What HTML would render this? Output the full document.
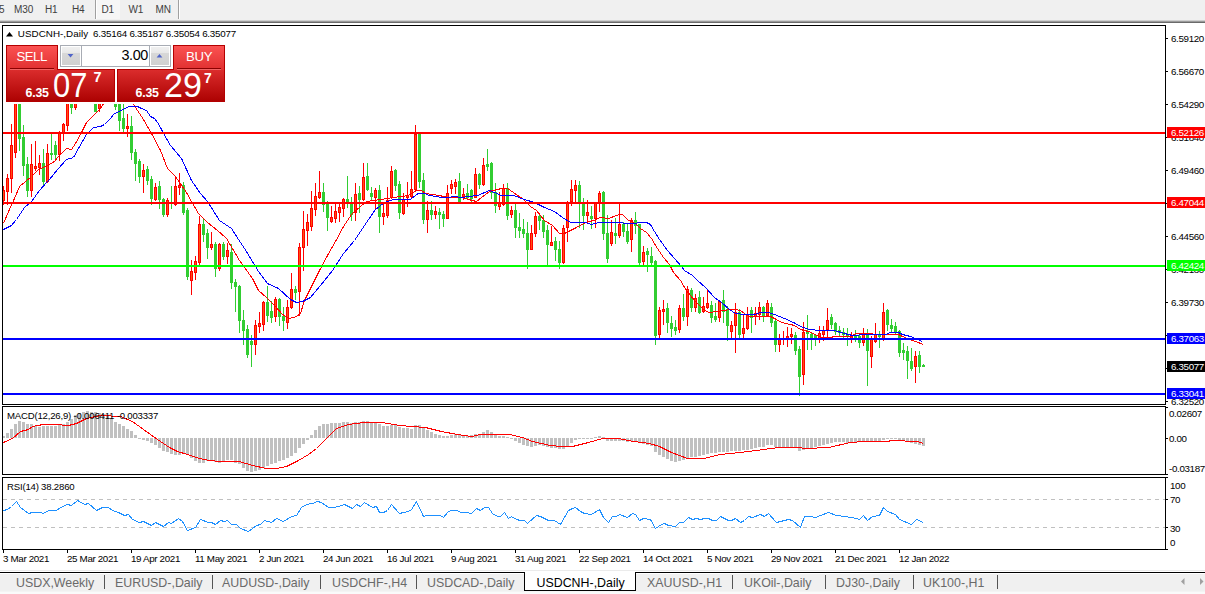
<!DOCTYPE html>
<html><head><meta charset="utf-8"><style>
html,body{margin:0;padding:0;}
body{width:1205px;height:594px;position:relative;overflow:hidden;background:#fff;font-family:"Liberation Sans", sans-serif;}
.t{position:absolute;white-space:pre;line-height:1;font-family:"Liberation Sans", sans-serif;}
#tb{position:absolute;left:0;top:0;width:1205px;height:20px;background:#f0f0f0;}
</style></head><body>
<div id="tb"></div>
<div style="position:absolute;left:95px;top:0;width:1px;height:19px;background:#a0a0a0"></div><div style="position:absolute;left:96px;top:0;width:1px;height:19px;background:#ffffff"></div><div style="position:absolute;left:178px;top:0;width:1px;height:19px;background:#a0a0a0"></div><div style="position:absolute;left:179px;top:0;width:1px;height:19px;background:#ffffff"></div><div style="position:absolute;left:97px;top:0;width:23px;height:19px;background:#f6f6f6"></div>
<div style="position:absolute;left:0;top:20px;width:1205px;height:1px;background:#cfcfcf"></div>
<div style="position:absolute;left:0;top:21px;width:1205px;height:1px;background:#9a9a9a"></div>
<div style="position:absolute;left:0;top:22px;width:1205px;height:1px;background:#6a6a6a"></div>
<svg width="1205" height="594" style="position:absolute;left:0;top:0"><rect x="2" y="436" width="3" height="2" fill="#c0c0c0"/><rect x="6" y="433" width="3" height="5" fill="#c0c0c0"/><rect x="10" y="429" width="3" height="9" fill="#c0c0c0"/><rect x="14" y="424" width="3" height="14" fill="#c0c0c0"/><rect x="18" y="421" width="3" height="17" fill="#c0c0c0"/><rect x="22" y="422" width="3" height="16" fill="#c0c0c0"/><rect x="26" y="424" width="3" height="14" fill="#c0c0c0"/><rect x="30" y="424" width="3" height="14" fill="#c0c0c0"/><rect x="34" y="426" width="3" height="12" fill="#c0c0c0"/><rect x="38" y="427" width="3" height="11" fill="#c0c0c0"/><rect x="42" y="426" width="3" height="12" fill="#c0c0c0"/><rect x="46" y="426" width="3" height="12" fill="#c0c0c0"/><rect x="50" y="426" width="3" height="12" fill="#c0c0c0"/><rect x="54" y="426" width="3" height="12" fill="#c0c0c0"/><rect x="58" y="425" width="3" height="13" fill="#c0c0c0"/><rect x="62" y="424" width="3" height="14" fill="#c0c0c0"/><rect x="66" y="422" width="3" height="16" fill="#c0c0c0"/><rect x="70" y="419" width="3" height="19" fill="#c0c0c0"/><rect x="74" y="415" width="3" height="23" fill="#c0c0c0"/><rect x="78" y="413" width="3" height="25" fill="#c0c0c0"/><rect x="82" y="412" width="3" height="26" fill="#c0c0c0"/><rect x="86" y="411" width="3" height="27" fill="#c0c0c0"/><rect x="90" y="412" width="3" height="26" fill="#c0c0c0"/><rect x="94" y="412" width="3" height="26" fill="#c0c0c0"/><rect x="98" y="413" width="3" height="25" fill="#c0c0c0"/><rect x="102" y="414" width="3" height="24" fill="#c0c0c0"/><rect x="106" y="416" width="3" height="22" fill="#c0c0c0"/><rect x="110" y="419" width="3" height="19" fill="#c0c0c0"/><rect x="114" y="422" width="3" height="16" fill="#c0c0c0"/><rect x="118" y="424" width="3" height="14" fill="#c0c0c0"/><rect x="122" y="426" width="3" height="12" fill="#c0c0c0"/><rect x="126" y="429" width="3" height="9" fill="#c0c0c0"/><rect x="130" y="431" width="3" height="7" fill="#c0c0c0"/><rect x="134" y="435" width="3" height="3" fill="#c0c0c0"/><rect x="138" y="438" width="3" height="1" fill="#c0c0c0"/><rect x="142" y="438" width="3" height="2" fill="#c0c0c0"/><rect x="146" y="438" width="3" height="3" fill="#c0c0c0"/><rect x="150" y="438" width="3" height="5" fill="#c0c0c0"/><rect x="154" y="438" width="3" height="7" fill="#c0c0c0"/><rect x="158" y="438" width="3" height="10" fill="#c0c0c0"/><rect x="162" y="438" width="3" height="13" fill="#c0c0c0"/><rect x="166" y="438" width="3" height="14" fill="#c0c0c0"/><rect x="170" y="438" width="3" height="16" fill="#c0c0c0"/><rect x="174" y="438" width="3" height="17" fill="#c0c0c0"/><rect x="178" y="438" width="3" height="17" fill="#c0c0c0"/><rect x="182" y="438" width="3" height="16" fill="#c0c0c0"/><rect x="186" y="438" width="3" height="17" fill="#c0c0c0"/><rect x="190" y="438" width="3" height="20" fill="#c0c0c0"/><rect x="194" y="438" width="3" height="23" fill="#c0c0c0"/><rect x="198" y="438" width="3" height="25" fill="#c0c0c0"/><rect x="202" y="438" width="3" height="25" fill="#c0c0c0"/><rect x="206" y="438" width="3" height="23" fill="#c0c0c0"/><rect x="210" y="438" width="3" height="23" fill="#c0c0c0"/><rect x="214" y="438" width="3" height="24" fill="#c0c0c0"/><rect x="218" y="438" width="3" height="25" fill="#c0c0c0"/><rect x="222" y="438" width="3" height="24" fill="#c0c0c0"/><rect x="226" y="438" width="3" height="22" fill="#c0c0c0"/><rect x="230" y="438" width="3" height="22" fill="#c0c0c0"/><rect x="234" y="438" width="3" height="25" fill="#c0c0c0"/><rect x="238" y="438" width="3" height="26" fill="#c0c0c0"/><rect x="242" y="438" width="3" height="30" fill="#c0c0c0"/><rect x="246" y="438" width="3" height="33" fill="#c0c0c0"/><rect x="250" y="438" width="3" height="34" fill="#c0c0c0"/><rect x="254" y="438" width="3" height="33" fill="#c0c0c0"/><rect x="258" y="438" width="3" height="32" fill="#c0c0c0"/><rect x="262" y="438" width="3" height="30" fill="#c0c0c0"/><rect x="266" y="438" width="3" height="28" fill="#c0c0c0"/><rect x="270" y="438" width="3" height="26" fill="#c0c0c0"/><rect x="274" y="438" width="3" height="25" fill="#c0c0c0"/><rect x="278" y="438" width="3" height="23" fill="#c0c0c0"/><rect x="282" y="438" width="3" height="22" fill="#c0c0c0"/><rect x="286" y="438" width="3" height="20" fill="#c0c0c0"/><rect x="290" y="438" width="3" height="18" fill="#c0c0c0"/><rect x="294" y="438" width="3" height="15" fill="#c0c0c0"/><rect x="298" y="438" width="3" height="10" fill="#c0c0c0"/><rect x="302" y="438" width="3" height="6" fill="#c0c0c0"/><rect x="306" y="438" width="3" height="2" fill="#c0c0c0"/><rect x="310" y="435" width="3" height="3" fill="#c0c0c0"/><rect x="314" y="430" width="3" height="8" fill="#c0c0c0"/><rect x="318" y="426" width="3" height="12" fill="#c0c0c0"/><rect x="322" y="424" width="3" height="14" fill="#c0c0c0"/><rect x="326" y="424" width="3" height="14" fill="#c0c0c0"/><rect x="330" y="423" width="3" height="15" fill="#c0c0c0"/><rect x="334" y="423" width="3" height="15" fill="#c0c0c0"/><rect x="338" y="423" width="3" height="15" fill="#c0c0c0"/><rect x="342" y="422" width="3" height="16" fill="#c0c0c0"/><rect x="346" y="422" width="3" height="16" fill="#c0c0c0"/><rect x="350" y="423" width="3" height="15" fill="#c0c0c0"/><rect x="354" y="422" width="3" height="16" fill="#c0c0c0"/><rect x="358" y="422" width="3" height="16" fill="#c0c0c0"/><rect x="362" y="421" width="3" height="17" fill="#c0c0c0"/><rect x="366" y="421" width="3" height="17" fill="#c0c0c0"/><rect x="370" y="422" width="3" height="16" fill="#c0c0c0"/><rect x="374" y="423" width="3" height="15" fill="#c0c0c0"/><rect x="378" y="424" width="3" height="14" fill="#c0c0c0"/><rect x="382" y="426" width="3" height="12" fill="#c0c0c0"/><rect x="386" y="426" width="3" height="12" fill="#c0c0c0"/><rect x="390" y="425" width="3" height="13" fill="#c0c0c0"/><rect x="394" y="425" width="3" height="13" fill="#c0c0c0"/><rect x="398" y="427" width="3" height="11" fill="#c0c0c0"/><rect x="402" y="428" width="3" height="10" fill="#c0c0c0"/><rect x="406" y="428" width="3" height="10" fill="#c0c0c0"/><rect x="410" y="429" width="3" height="9" fill="#c0c0c0"/><rect x="414" y="425" width="3" height="13" fill="#c0c0c0"/><rect x="418" y="425" width="3" height="13" fill="#c0c0c0"/><rect x="422" y="427" width="3" height="11" fill="#c0c0c0"/><rect x="426" y="430" width="3" height="8" fill="#c0c0c0"/><rect x="430" y="432" width="3" height="6" fill="#c0c0c0"/><rect x="434" y="434" width="3" height="4" fill="#c0c0c0"/><rect x="438" y="435" width="3" height="3" fill="#c0c0c0"/><rect x="442" y="436" width="3" height="2" fill="#c0c0c0"/><rect x="446" y="436" width="3" height="2" fill="#c0c0c0"/><rect x="450" y="435" width="3" height="3" fill="#c0c0c0"/><rect x="454" y="434" width="3" height="4" fill="#c0c0c0"/><rect x="458" y="435" width="3" height="3" fill="#c0c0c0"/><rect x="462" y="436" width="3" height="2" fill="#c0c0c0"/><rect x="466" y="436" width="3" height="2" fill="#c0c0c0"/><rect x="470" y="435" width="3" height="3" fill="#c0c0c0"/><rect x="474" y="434" width="3" height="4" fill="#c0c0c0"/><rect x="478" y="434" width="3" height="4" fill="#c0c0c0"/><rect x="482" y="432" width="3" height="6" fill="#c0c0c0"/><rect x="486" y="430" width="3" height="8" fill="#c0c0c0"/><rect x="490" y="432" width="3" height="6" fill="#c0c0c0"/><rect x="494" y="434" width="3" height="4" fill="#c0c0c0"/><rect x="498" y="436" width="3" height="2" fill="#c0c0c0"/><rect x="502" y="436" width="3" height="2" fill="#c0c0c0"/><rect x="506" y="437" width="3" height="1" fill="#c0c0c0"/><rect x="510" y="438" width="3" height="1" fill="#c0c0c0"/><rect x="514" y="438" width="3" height="3" fill="#c0c0c0"/><rect x="518" y="438" width="3" height="5" fill="#c0c0c0"/><rect x="522" y="438" width="3" height="7" fill="#c0c0c0"/><rect x="526" y="438" width="3" height="8" fill="#c0c0c0"/><rect x="530" y="438" width="3" height="9" fill="#c0c0c0"/><rect x="534" y="438" width="3" height="8" fill="#c0c0c0"/><rect x="538" y="438" width="3" height="7" fill="#c0c0c0"/><rect x="542" y="438" width="3" height="8" fill="#c0c0c0"/><rect x="546" y="438" width="3" height="9" fill="#c0c0c0"/><rect x="550" y="438" width="3" height="10" fill="#c0c0c0"/><rect x="554" y="438" width="3" height="10" fill="#c0c0c0"/><rect x="558" y="438" width="3" height="11" fill="#c0c0c0"/><rect x="562" y="438" width="3" height="11" fill="#c0c0c0"/><rect x="566" y="438" width="3" height="9" fill="#c0c0c0"/><rect x="570" y="438" width="3" height="5" fill="#c0c0c0"/><rect x="574" y="438" width="3" height="2" fill="#c0c0c0"/><rect x="578" y="438" width="3" height="1" fill="#c0c0c0"/><rect x="582" y="438" width="3" height="1" fill="#c0c0c0"/><rect x="586" y="438" width="3" height="1" fill="#c0c0c0"/><rect x="590" y="438" width="3" height="1" fill="#c0c0c0"/><rect x="594" y="437" width="3" height="1" fill="#c0c0c0"/><rect x="598" y="436" width="3" height="2" fill="#c0c0c0"/><rect x="602" y="437" width="3" height="1" fill="#c0c0c0"/><rect x="606" y="438" width="3" height="3" fill="#c0c0c0"/><rect x="610" y="438" width="3" height="3" fill="#c0c0c0"/><rect x="614" y="438" width="3" height="3" fill="#c0c0c0"/><rect x="618" y="438" width="3" height="3" fill="#c0c0c0"/><rect x="622" y="438" width="3" height="3" fill="#c0c0c0"/><rect x="626" y="438" width="3" height="4" fill="#c0c0c0"/><rect x="630" y="438" width="3" height="3" fill="#c0c0c0"/><rect x="634" y="438" width="3" height="4" fill="#c0c0c0"/><rect x="638" y="438" width="3" height="5" fill="#c0c0c0"/><rect x="642" y="438" width="3" height="6" fill="#c0c0c0"/><rect x="646" y="438" width="3" height="7" fill="#c0c0c0"/><rect x="650" y="438" width="3" height="8" fill="#c0c0c0"/><rect x="654" y="438" width="3" height="14" fill="#c0c0c0"/><rect x="658" y="438" width="3" height="17" fill="#c0c0c0"/><rect x="662" y="438" width="3" height="19" fill="#c0c0c0"/><rect x="666" y="438" width="3" height="21" fill="#c0c0c0"/><rect x="670" y="438" width="3" height="23" fill="#c0c0c0"/><rect x="674" y="438" width="3" height="24" fill="#c0c0c0"/><rect x="678" y="438" width="3" height="23" fill="#c0c0c0"/><rect x="682" y="438" width="3" height="22" fill="#c0c0c0"/><rect x="686" y="438" width="3" height="20" fill="#c0c0c0"/><rect x="690" y="438" width="3" height="19" fill="#c0c0c0"/><rect x="694" y="438" width="3" height="19" fill="#c0c0c0"/><rect x="698" y="438" width="3" height="18" fill="#c0c0c0"/><rect x="702" y="438" width="3" height="17" fill="#c0c0c0"/><rect x="706" y="438" width="3" height="16" fill="#c0c0c0"/><rect x="710" y="438" width="3" height="15" fill="#c0c0c0"/><rect x="714" y="438" width="3" height="15" fill="#c0c0c0"/><rect x="718" y="438" width="3" height="14" fill="#c0c0c0"/><rect x="722" y="438" width="3" height="14" fill="#c0c0c0"/><rect x="726" y="438" width="3" height="14" fill="#c0c0c0"/><rect x="730" y="438" width="3" height="13" fill="#c0c0c0"/><rect x="734" y="438" width="3" height="13" fill="#c0c0c0"/><rect x="738" y="438" width="3" height="13" fill="#c0c0c0"/><rect x="742" y="438" width="3" height="12" fill="#c0c0c0"/><rect x="746" y="438" width="3" height="12" fill="#c0c0c0"/><rect x="750" y="438" width="3" height="11" fill="#c0c0c0"/><rect x="754" y="438" width="3" height="10" fill="#c0c0c0"/><rect x="758" y="438" width="3" height="9" fill="#c0c0c0"/><rect x="762" y="438" width="3" height="9" fill="#c0c0c0"/><rect x="766" y="438" width="3" height="7" fill="#c0c0c0"/><rect x="770" y="438" width="3" height="7" fill="#c0c0c0"/><rect x="774" y="438" width="3" height="9" fill="#c0c0c0"/><rect x="778" y="438" width="3" height="10" fill="#c0c0c0"/><rect x="782" y="438" width="3" height="9" fill="#c0c0c0"/><rect x="786" y="438" width="3" height="9" fill="#c0c0c0"/><rect x="790" y="438" width="3" height="9" fill="#c0c0c0"/><rect x="794" y="438" width="3" height="10" fill="#c0c0c0"/><rect x="798" y="438" width="3" height="13" fill="#c0c0c0"/><rect x="802" y="438" width="3" height="12" fill="#c0c0c0"/><rect x="806" y="438" width="3" height="10" fill="#c0c0c0"/><rect x="810" y="438" width="3" height="10" fill="#c0c0c0"/><rect x="814" y="438" width="3" height="9" fill="#c0c0c0"/><rect x="818" y="438" width="3" height="8" fill="#c0c0c0"/><rect x="822" y="438" width="3" height="7" fill="#c0c0c0"/><rect x="826" y="438" width="3" height="6" fill="#c0c0c0"/><rect x="830" y="438" width="3" height="5" fill="#c0c0c0"/><rect x="834" y="438" width="3" height="4" fill="#c0c0c0"/><rect x="838" y="438" width="3" height="4" fill="#c0c0c0"/><rect x="842" y="438" width="3" height="4" fill="#c0c0c0"/><rect x="846" y="438" width="3" height="5" fill="#c0c0c0"/><rect x="850" y="438" width="3" height="4" fill="#c0c0c0"/><rect x="854" y="438" width="3" height="4" fill="#c0c0c0"/><rect x="858" y="438" width="3" height="4" fill="#c0c0c0"/><rect x="862" y="438" width="3" height="3" fill="#c0c0c0"/><rect x="866" y="438" width="3" height="4" fill="#c0c0c0"/><rect x="870" y="438" width="3" height="4" fill="#c0c0c0"/><rect x="874" y="438" width="3" height="4" fill="#c0c0c0"/><rect x="878" y="438" width="3" height="3" fill="#c0c0c0"/><rect x="882" y="438" width="3" height="2" fill="#c0c0c0"/><rect x="886" y="438" width="3" height="1" fill="#c0c0c0"/><rect x="890" y="438" width="3" height="1" fill="#c0c0c0"/><rect x="894" y="438" width="3" height="1" fill="#c0c0c0"/><rect x="898" y="438" width="3" height="2" fill="#c0c0c0"/><rect x="902" y="438" width="3" height="2" fill="#c0c0c0"/><rect x="906" y="438" width="3" height="4" fill="#c0c0c0"/><rect x="910" y="438" width="3" height="5" fill="#c0c0c0"/><rect x="914" y="438" width="3" height="6" fill="#c0c0c0"/><rect x="918" y="438" width="3" height="7" fill="#c0c0c0"/><rect x="922" y="438" width="3" height="8" fill="#c0c0c0"/><polyline points="3.5,442.5 12.5,438.5 20.5,431.5 24.5,430.5 28.5,429.5 32.5,426.5 38.5,425.5 42.5,424.5 54.5,424.5 68.5,425.5 76.5,423.5 86.5,418.5 100.5,415.5 120.5,416.5 132.5,421.5 143.5,429.5 157.5,439.5 169.5,447.5 177.5,451.5 187.5,454.5 199.5,458.5 209.5,460.5 219.5,461.5 239.5,461.5 252.5,465.5 266.5,468.5 276.5,468.5 286.5,466.5 298.5,460.5 308.5,454.5 316.5,448.5 326.5,438.5 336.5,428.5 348.5,424.5 364.5,422.5 381.5,422.5 399.5,425.5 411.5,426.5 425.5,427.5 441.5,431.5 457.5,434.5 471.5,436.5 480.5,434.5 486.5,434.5 509.5,434.5 522.5,437.5 532.5,441.5 550.5,445.5 560.5,446.5 572.5,446.5 588.5,442.5 602.5,438.5 618.5,438.5 633.5,441.5 649.5,443.5 659.5,446.5 671.5,452.5 687.5,458.5 703.5,458.5 720.5,454.5 740.5,452.5 756.5,450.5 778.5,447.5 796.5,447.5 806.5,448.5 828.5,447.5 850.5,442.5 863.5,441.5 887.5,441.5 891.5,440.5 917.5,441.5 923.5,443.5" fill="none" stroke="#ff0000" stroke-width="1" stroke-linejoin="round" shape-rendering="crispEdges"/><line x1="3" y1="499.5" x2="1165" y2="499.5" stroke="#c0c0c0" stroke-width="1" stroke-dasharray="4,4"/><line x1="3" y1="527.5" x2="1165" y2="527.5" stroke="#c0c0c0" stroke-width="1" stroke-dasharray="4,4"/><polyline points="3.5,510.5 7.5,509.5 11.5,506.5 16.5,501.5 20.5,507.5 24.5,510.5 28.5,513.5 32.5,512.5 40.5,512.5 43.5,513.5 48.5,510.5 56.5,510.5 60.5,507.5 67.5,504.5 71.5,505.5 77.5,500.5 84.5,504.5 88.5,503.5 96.5,510.5 102.5,507.5 108.5,507.5 112.5,510.5 118.5,512.5 124.5,515.5 128.5,514.5 132.5,519.5 139.5,522.5 143.5,521.5 151.5,525.5 155.5,522.5 163.5,526.5 168.5,522.5 171.5,523.5 178.5,518.5 182.5,521.5 187.5,530.5 195.5,527.5 200.5,519.5 208.5,522.5 211.5,522.5 215.5,524.5 220.5,520.5 224.5,521.5 227.5,520.5 231.5,524.5 236.5,524.5 240.5,528.5 248.5,531.5 256.5,525.5 260.5,524.5 264.5,520.5 271.5,522.5 276.5,518.5 283.5,521.5 291.5,516.5 296.5,515.5 301.5,507.5 306.5,504.5 312.5,503.5 317.5,501.5 321.5,502.5 328.5,507.5 333.5,507.5 338.5,506.5 344.5,504.5 352.5,508.5 356.5,504.5 360.5,506.5 364.5,502.5 372.5,507.5 376.5,506.5 379.5,512.5 383.5,512.5 387.5,510.5 391.5,504.5 399.5,513.5 403.5,512.5 408.5,511.5 411.5,509.5 416.5,501.5 423.5,516.5 426.5,515.5 440.5,515.5 443.5,517.5 448.5,511.5 451.5,510.5 456.5,510.5 461.5,512.5 466.5,512.5 471.5,513.5 476.5,508.5 480.5,510.5 484.5,507.5 488.5,507.5 492.5,513.5 497.5,516.5 500.5,516.5 504.5,512.5 508.5,518.5 511.5,516.5 516.5,519.5 520.5,520.5 524.5,520.5 527.5,523.5 536.5,515.5 540.5,516.5 548.5,520.5 554.5,520.5 560.5,524.5 568.5,510.5 572.5,508.5 575.5,507.5 580.5,511.5 584.5,513.5 591.5,514.5 599.5,509.5 603.5,517.5 608.5,522.5 612.5,516.5 616.5,516.5 619.5,514.5 627.5,517.5 632.5,513.5 635.5,514.5 639.5,520.5 643.5,518.5 650.5,519.5 655.5,528.5 661.5,524.5 664.5,523.5 668.5,525.5 675.5,526.5 679.5,522.5 683.5,522.5 688.5,517.5 692.5,519.5 696.5,518.5 700.5,519.5 704.5,518.5 708.5,518.5 712.5,520.5 716.5,520.5 720.5,516.5 728.5,520.5 731.5,520.5 735.5,518.5 740.5,522.5 744.5,520.5 748.5,516.5 752.5,517.5 760.5,514.5 764.5,516.5 768.5,513.5 776.5,522.5 780.5,521.5 788.5,519.5 792.5,520.5 800.5,527.5 804.5,516.5 809.5,516.5 815.5,517.5 820.5,515.5 828.5,512.5 836.5,515.5 844.5,516.5 856.5,518.5 859.5,519.5 863.5,515.5 867.5,520.5 872.5,516.5 879.5,515.5 883.5,507.5 887.5,511.5 895.5,514.5 899.5,519.5 911.5,524.5 916.5,519.5 923.5,522.5" fill="none" stroke="#1e90ff" stroke-width="1" stroke-linejoin="round" shape-rendering="crispEdges"/><g shape-rendering="crispEdges"><rect x="3" y="186" width="1" height="19" fill="#ff0000"/><rect x="2" y="190" width="3" height="11" fill="#ff0000"/><rect x="3" y="191" width="1" height="9" fill="#ff5010"/><rect x="7" y="174" width="1" height="31" fill="#ff0000"/><rect x="6" y="178" width="3" height="14" fill="#ff0000"/><rect x="7" y="179" width="1" height="12" fill="#ff5010"/><rect x="11" y="124" width="1" height="69" fill="#ff0000"/><rect x="10" y="145" width="3" height="34" fill="#ff0000"/><rect x="11" y="146" width="1" height="32" fill="#ff5010"/><rect x="15" y="95" width="1" height="63" fill="#ff0000"/><rect x="14" y="95" width="3" height="58" fill="#ff0000"/><rect x="15" y="96" width="1" height="56" fill="#ff5010"/><rect x="19" y="95" width="1" height="56" fill="#32cd32"/><rect x="18" y="95" width="3" height="44" fill="#32cd32"/><rect x="23" y="125" width="1" height="51" fill="#32cd32"/><rect x="22" y="137" width="3" height="29" fill="#32cd32"/><rect x="27" y="157" width="1" height="40" fill="#32cd32"/><rect x="26" y="164" width="3" height="27" fill="#32cd32"/><rect x="31" y="144" width="1" height="53" fill="#ff0000"/><rect x="30" y="164" width="3" height="27" fill="#ff0000"/><rect x="31" y="165" width="1" height="25" fill="#ff5010"/><rect x="35" y="141" width="1" height="30" fill="#ff0000"/><rect x="34" y="166" width="3" height="3" fill="#ff0000"/><rect x="35" y="167" width="1" height="1" fill="#ff5010"/><rect x="39" y="155" width="1" height="20" fill="#ff0000"/><rect x="38" y="163" width="3" height="5" fill="#ff0000"/><rect x="39" y="164" width="1" height="3" fill="#ff5010"/><rect x="43" y="149" width="1" height="36" fill="#32cd32"/><rect x="42" y="163" width="3" height="19" fill="#32cd32"/><rect x="47" y="144" width="1" height="39" fill="#ff0000"/><rect x="46" y="153" width="3" height="29" fill="#ff0000"/><rect x="47" y="154" width="1" height="27" fill="#ff5010"/><rect x="51" y="133" width="1" height="27" fill="#32cd32"/><rect x="50" y="153" width="3" height="2" fill="#32cd32"/><rect x="55" y="141" width="1" height="20" fill="#32cd32"/><rect x="54" y="145" width="3" height="10" fill="#32cd32"/><rect x="59" y="131" width="1" height="30" fill="#ff0000"/><rect x="58" y="132" width="3" height="23" fill="#ff0000"/><rect x="59" y="133" width="1" height="21" fill="#ff5010"/><rect x="63" y="123" width="1" height="18" fill="#ff0000"/><rect x="62" y="124" width="3" height="9" fill="#ff0000"/><rect x="63" y="125" width="1" height="7" fill="#ff5010"/><rect x="67" y="95" width="1" height="36" fill="#ff0000"/><rect x="66" y="95" width="3" height="31" fill="#ff0000"/><rect x="67" y="96" width="1" height="29" fill="#ff5010"/><rect x="71" y="95" width="1" height="19" fill="#32cd32"/><rect x="70" y="95" width="3" height="13" fill="#32cd32"/><rect x="75" y="95" width="1" height="15" fill="#ff0000"/><rect x="74" y="95" width="3" height="13" fill="#ff0000"/><rect x="75" y="96" width="1" height="11" fill="#ff5010"/><rect x="95" y="95" width="1" height="17" fill="#32cd32"/><rect x="94" y="95" width="3" height="17" fill="#32cd32"/><rect x="99" y="95" width="1" height="17" fill="#ff0000"/><rect x="98" y="95" width="3" height="14" fill="#ff0000"/><rect x="99" y="96" width="1" height="12" fill="#ff5010"/><rect x="115" y="104" width="1" height="6" fill="#32cd32"/><rect x="114" y="104" width="3" height="3" fill="#32cd32"/><rect x="119" y="95" width="1" height="36" fill="#32cd32"/><rect x="118" y="95" width="3" height="26" fill="#32cd32"/><rect x="123" y="104" width="1" height="30" fill="#32cd32"/><rect x="122" y="118" width="3" height="11" fill="#32cd32"/><rect x="127" y="114" width="1" height="23" fill="#ff0000"/><rect x="126" y="126" width="3" height="3" fill="#ff0000"/><rect x="127" y="127" width="1" height="1" fill="#ff5010"/><rect x="131" y="116" width="1" height="44" fill="#32cd32"/><rect x="130" y="126" width="3" height="27" fill="#32cd32"/><rect x="135" y="149" width="1" height="32" fill="#32cd32"/><rect x="134" y="152" width="3" height="12" fill="#32cd32"/><rect x="139" y="159" width="1" height="24" fill="#32cd32"/><rect x="138" y="161" width="3" height="16" fill="#32cd32"/><rect x="143" y="164" width="1" height="29" fill="#ff0000"/><rect x="142" y="170" width="3" height="7" fill="#ff0000"/><rect x="143" y="171" width="1" height="5" fill="#ff5010"/><rect x="147" y="166" width="1" height="19" fill="#32cd32"/><rect x="146" y="169" width="3" height="12" fill="#32cd32"/><rect x="151" y="176" width="1" height="29" fill="#32cd32"/><rect x="150" y="179" width="3" height="20" fill="#32cd32"/><rect x="155" y="183" width="1" height="18" fill="#ff0000"/><rect x="154" y="187" width="3" height="13" fill="#ff0000"/><rect x="155" y="188" width="1" height="11" fill="#ff5010"/><rect x="159" y="181" width="1" height="28" fill="#32cd32"/><rect x="158" y="186" width="3" height="14" fill="#32cd32"/><rect x="163" y="198" width="1" height="19" fill="#32cd32"/><rect x="162" y="199" width="3" height="16" fill="#32cd32"/><rect x="167" y="198" width="1" height="19" fill="#ff0000"/><rect x="166" y="200" width="3" height="15" fill="#ff0000"/><rect x="167" y="201" width="1" height="13" fill="#ff5010"/><rect x="171" y="186" width="1" height="23" fill="#32cd32"/><rect x="170" y="202" width="3" height="2" fill="#32cd32"/><rect x="175" y="177" width="1" height="29" fill="#ff0000"/><rect x="174" y="186" width="3" height="19" fill="#ff0000"/><rect x="175" y="187" width="1" height="17" fill="#ff5010"/><rect x="179" y="173" width="1" height="22" fill="#ff0000"/><rect x="178" y="185" width="3" height="3" fill="#ff0000"/><rect x="179" y="186" width="1" height="1" fill="#ff5010"/><rect x="183" y="182" width="1" height="33" fill="#32cd32"/><rect x="182" y="185" width="3" height="28" fill="#32cd32"/><rect x="187" y="208" width="1" height="72" fill="#32cd32"/><rect x="186" y="210" width="3" height="67" fill="#32cd32"/><rect x="191" y="260" width="1" height="35" fill="#ff0000"/><rect x="190" y="271" width="3" height="10" fill="#ff0000"/><rect x="191" y="272" width="1" height="8" fill="#ff5010"/><rect x="195" y="256" width="1" height="24" fill="#ff0000"/><rect x="194" y="261" width="3" height="12" fill="#ff0000"/><rect x="195" y="262" width="1" height="10" fill="#ff5010"/><rect x="199" y="216" width="1" height="51" fill="#ff0000"/><rect x="198" y="224" width="3" height="39" fill="#ff0000"/><rect x="199" y="225" width="1" height="37" fill="#ff5010"/><rect x="203" y="218" width="1" height="24" fill="#32cd32"/><rect x="202" y="224" width="3" height="11" fill="#32cd32"/><rect x="207" y="229" width="1" height="30" fill="#32cd32"/><rect x="206" y="233" width="3" height="15" fill="#32cd32"/><rect x="211" y="232" width="1" height="18" fill="#ff0000"/><rect x="210" y="244" width="3" height="4" fill="#ff0000"/><rect x="211" y="245" width="1" height="2" fill="#ff5010"/><rect x="215" y="242" width="1" height="35" fill="#32cd32"/><rect x="214" y="244" width="3" height="25" fill="#32cd32"/><rect x="219" y="243" width="1" height="28" fill="#ff0000"/><rect x="218" y="244" width="3" height="25" fill="#ff0000"/><rect x="219" y="245" width="1" height="23" fill="#ff5010"/><rect x="223" y="242" width="1" height="18" fill="#32cd32"/><rect x="222" y="244" width="3" height="13" fill="#32cd32"/><rect x="227" y="243" width="1" height="21" fill="#ff0000"/><rect x="226" y="250" width="3" height="7" fill="#ff0000"/><rect x="227" y="251" width="1" height="5" fill="#ff5010"/><rect x="231" y="244" width="1" height="45" fill="#32cd32"/><rect x="230" y="252" width="3" height="31" fill="#32cd32"/><rect x="235" y="279" width="1" height="33" fill="#32cd32"/><rect x="234" y="282" width="3" height="5" fill="#32cd32"/><rect x="239" y="285" width="1" height="48" fill="#32cd32"/><rect x="238" y="286" width="3" height="35" fill="#32cd32"/><rect x="243" y="310" width="1" height="35" fill="#32cd32"/><rect x="242" y="320" width="3" height="11" fill="#32cd32"/><rect x="247" y="325" width="1" height="33" fill="#32cd32"/><rect x="246" y="329" width="3" height="26" fill="#32cd32"/><rect x="251" y="335" width="1" height="32" fill="#32cd32"/><rect x="250" y="341" width="3" height="4" fill="#32cd32"/><rect x="255" y="320" width="1" height="35" fill="#ff0000"/><rect x="254" y="325" width="3" height="20" fill="#ff0000"/><rect x="255" y="326" width="1" height="18" fill="#ff5010"/><rect x="259" y="312" width="1" height="21" fill="#ff0000"/><rect x="258" y="323" width="3" height="4" fill="#ff0000"/><rect x="259" y="324" width="1" height="2" fill="#ff5010"/><rect x="263" y="301" width="1" height="30" fill="#ff0000"/><rect x="262" y="302" width="3" height="23" fill="#ff0000"/><rect x="263" y="303" width="1" height="21" fill="#ff5010"/><rect x="267" y="286" width="1" height="36" fill="#32cd32"/><rect x="266" y="302" width="3" height="14" fill="#32cd32"/><rect x="271" y="301" width="1" height="22" fill="#32cd32"/><rect x="270" y="311" width="3" height="7" fill="#32cd32"/><rect x="275" y="297" width="1" height="25" fill="#ff0000"/><rect x="274" y="299" width="3" height="18" fill="#ff0000"/><rect x="275" y="300" width="1" height="16" fill="#ff5010"/><rect x="279" y="298" width="1" height="28" fill="#32cd32"/><rect x="278" y="299" width="3" height="18" fill="#32cd32"/><rect x="283" y="307" width="1" height="24" fill="#32cd32"/><rect x="282" y="316" width="3" height="5" fill="#32cd32"/><rect x="287" y="300" width="1" height="29" fill="#ff0000"/><rect x="286" y="307" width="3" height="16" fill="#ff0000"/><rect x="287" y="308" width="1" height="14" fill="#ff5010"/><rect x="291" y="273" width="1" height="36" fill="#ff0000"/><rect x="290" y="289" width="3" height="19" fill="#ff0000"/><rect x="291" y="290" width="1" height="17" fill="#ff5010"/><rect x="295" y="286" width="1" height="14" fill="#32cd32"/><rect x="294" y="289" width="3" height="4" fill="#32cd32"/><rect x="299" y="243" width="1" height="73" fill="#ff0000"/><rect x="298" y="247" width="3" height="45" fill="#ff0000"/><rect x="299" y="248" width="1" height="43" fill="#ff5010"/><rect x="303" y="211" width="1" height="60" fill="#ff0000"/><rect x="302" y="229" width="3" height="19" fill="#ff0000"/><rect x="303" y="230" width="1" height="17" fill="#ff5010"/><rect x="307" y="214" width="1" height="32" fill="#ff0000"/><rect x="306" y="222" width="3" height="9" fill="#ff0000"/><rect x="307" y="223" width="1" height="7" fill="#ff5010"/><rect x="311" y="191" width="1" height="40" fill="#ff0000"/><rect x="310" y="208" width="3" height="19" fill="#ff0000"/><rect x="311" y="209" width="1" height="17" fill="#ff5010"/><rect x="315" y="183" width="1" height="33" fill="#ff0000"/><rect x="314" y="196" width="3" height="14" fill="#ff0000"/><rect x="315" y="197" width="1" height="12" fill="#ff5010"/><rect x="319" y="171" width="1" height="28" fill="#ff0000"/><rect x="318" y="192" width="3" height="6" fill="#ff0000"/><rect x="319" y="193" width="1" height="4" fill="#ff5010"/><rect x="323" y="183" width="1" height="29" fill="#32cd32"/><rect x="322" y="192" width="3" height="13" fill="#32cd32"/><rect x="327" y="201" width="1" height="30" fill="#32cd32"/><rect x="326" y="203" width="3" height="15" fill="#32cd32"/><rect x="331" y="206" width="1" height="17" fill="#ff0000"/><rect x="330" y="217" width="3" height="5" fill="#ff0000"/><rect x="331" y="218" width="1" height="3" fill="#ff5010"/><rect x="335" y="204" width="1" height="19" fill="#ff0000"/><rect x="334" y="211" width="3" height="8" fill="#ff0000"/><rect x="335" y="212" width="1" height="6" fill="#ff5010"/><rect x="339" y="204" width="1" height="18" fill="#ff0000"/><rect x="338" y="207" width="3" height="6" fill="#ff0000"/><rect x="339" y="208" width="1" height="4" fill="#ff5010"/><rect x="343" y="198" width="1" height="19" fill="#ff0000"/><rect x="342" y="199" width="3" height="10" fill="#ff0000"/><rect x="343" y="200" width="1" height="8" fill="#ff5010"/><rect x="347" y="176" width="1" height="32" fill="#32cd32"/><rect x="346" y="199" width="3" height="4" fill="#32cd32"/><rect x="351" y="197" width="1" height="24" fill="#32cd32"/><rect x="350" y="203" width="3" height="12" fill="#32cd32"/><rect x="355" y="183" width="1" height="38" fill="#ff0000"/><rect x="354" y="194" width="3" height="19" fill="#ff0000"/><rect x="355" y="195" width="1" height="17" fill="#ff5010"/><rect x="359" y="186" width="1" height="27" fill="#32cd32"/><rect x="358" y="193" width="3" height="7" fill="#32cd32"/><rect x="363" y="163" width="1" height="38" fill="#ff0000"/><rect x="362" y="177" width="3" height="23" fill="#ff0000"/><rect x="363" y="178" width="1" height="21" fill="#ff5010"/><rect x="367" y="163" width="1" height="28" fill="#32cd32"/><rect x="366" y="176" width="3" height="14" fill="#32cd32"/><rect x="371" y="187" width="1" height="14" fill="#32cd32"/><rect x="370" y="193" width="3" height="4" fill="#32cd32"/><rect x="375" y="188" width="1" height="22" fill="#ff0000"/><rect x="374" y="190" width="3" height="8" fill="#ff0000"/><rect x="375" y="191" width="1" height="6" fill="#ff5010"/><rect x="379" y="185" width="1" height="48" fill="#32cd32"/><rect x="378" y="190" width="3" height="27" fill="#32cd32"/><rect x="383" y="204" width="1" height="21" fill="#ff0000"/><rect x="382" y="213" width="3" height="4" fill="#ff0000"/><rect x="383" y="214" width="1" height="2" fill="#ff5010"/><rect x="387" y="187" width="1" height="31" fill="#ff0000"/><rect x="386" y="200" width="3" height="16" fill="#ff0000"/><rect x="387" y="201" width="1" height="14" fill="#ff5010"/><rect x="391" y="166" width="1" height="33" fill="#ff0000"/><rect x="390" y="171" width="3" height="27" fill="#ff0000"/><rect x="391" y="172" width="1" height="25" fill="#ff5010"/><rect x="395" y="169" width="1" height="22" fill="#32cd32"/><rect x="394" y="170" width="3" height="16" fill="#32cd32"/><rect x="399" y="181" width="1" height="38" fill="#32cd32"/><rect x="398" y="184" width="3" height="29" fill="#32cd32"/><rect x="403" y="193" width="1" height="22" fill="#ff0000"/><rect x="402" y="199" width="3" height="15" fill="#ff0000"/><rect x="403" y="200" width="1" height="13" fill="#ff5010"/><rect x="407" y="182" width="1" height="25" fill="#ff0000"/><rect x="406" y="195" width="3" height="3" fill="#ff0000"/><rect x="407" y="196" width="1" height="1" fill="#ff5010"/><rect x="411" y="171" width="1" height="27" fill="#ff0000"/><rect x="410" y="189" width="3" height="8" fill="#ff0000"/><rect x="411" y="190" width="1" height="6" fill="#ff5010"/><rect x="415" y="125" width="1" height="66" fill="#ff0000"/><rect x="414" y="134" width="3" height="56" fill="#ff0000"/><rect x="415" y="135" width="1" height="54" fill="#ff5010"/><rect x="419" y="133" width="1" height="55" fill="#32cd32"/><rect x="418" y="134" width="3" height="48" fill="#32cd32"/><rect x="423" y="173" width="1" height="51" fill="#32cd32"/><rect x="422" y="180" width="3" height="40" fill="#32cd32"/><rect x="427" y="201" width="1" height="32" fill="#ff0000"/><rect x="426" y="210" width="3" height="10" fill="#ff0000"/><rect x="427" y="211" width="1" height="8" fill="#ff5010"/><rect x="431" y="201" width="1" height="19" fill="#32cd32"/><rect x="430" y="210" width="3" height="5" fill="#32cd32"/><rect x="435" y="206" width="1" height="13" fill="#ff0000"/><rect x="434" y="211" width="3" height="4" fill="#ff0000"/><rect x="435" y="212" width="1" height="2" fill="#ff5010"/><rect x="439" y="208" width="1" height="21" fill="#32cd32"/><rect x="438" y="212" width="3" height="3" fill="#32cd32"/><rect x="443" y="211" width="1" height="16" fill="#32cd32"/><rect x="442" y="214" width="3" height="5" fill="#32cd32"/><rect x="447" y="185" width="1" height="34" fill="#ff0000"/><rect x="446" y="193" width="3" height="26" fill="#ff0000"/><rect x="447" y="194" width="1" height="24" fill="#ff5010"/><rect x="451" y="180" width="1" height="14" fill="#ff0000"/><rect x="450" y="184" width="3" height="5" fill="#ff0000"/><rect x="451" y="185" width="1" height="3" fill="#ff5010"/><rect x="455" y="179" width="1" height="15" fill="#ff0000"/><rect x="454" y="182" width="3" height="5" fill="#ff0000"/><rect x="455" y="183" width="1" height="3" fill="#ff5010"/><rect x="459" y="173" width="1" height="30" fill="#32cd32"/><rect x="458" y="181" width="3" height="21" fill="#32cd32"/><rect x="463" y="188" width="1" height="12" fill="#ff0000"/><rect x="462" y="194" width="3" height="3" fill="#ff0000"/><rect x="463" y="195" width="1" height="1" fill="#ff5010"/><rect x="467" y="184" width="1" height="15" fill="#32cd32"/><rect x="466" y="193" width="3" height="5" fill="#32cd32"/><rect x="471" y="189" width="1" height="13" fill="#32cd32"/><rect x="470" y="190" width="3" height="9" fill="#32cd32"/><rect x="475" y="168" width="1" height="30" fill="#ff0000"/><rect x="474" y="174" width="3" height="24" fill="#ff0000"/><rect x="475" y="175" width="1" height="22" fill="#ff5010"/><rect x="479" y="173" width="1" height="16" fill="#32cd32"/><rect x="478" y="174" width="3" height="11" fill="#32cd32"/><rect x="483" y="158" width="1" height="28" fill="#ff0000"/><rect x="482" y="165" width="3" height="20" fill="#ff0000"/><rect x="483" y="166" width="1" height="18" fill="#ff5010"/><rect x="487" y="149" width="1" height="22" fill="#32cd32"/><rect x="486" y="164" width="3" height="3" fill="#32cd32"/><rect x="491" y="162" width="1" height="37" fill="#32cd32"/><rect x="490" y="163" width="3" height="30" fill="#32cd32"/><rect x="495" y="183" width="1" height="30" fill="#32cd32"/><rect x="494" y="192" width="3" height="14" fill="#32cd32"/><rect x="499" y="192" width="1" height="18" fill="#ff0000"/><rect x="498" y="203" width="3" height="4" fill="#ff0000"/><rect x="499" y="204" width="1" height="2" fill="#ff5010"/><rect x="503" y="184" width="1" height="22" fill="#ff0000"/><rect x="502" y="188" width="3" height="17" fill="#ff0000"/><rect x="503" y="189" width="1" height="15" fill="#ff5010"/><rect x="507" y="183" width="1" height="37" fill="#32cd32"/><rect x="506" y="188" width="3" height="28" fill="#32cd32"/><rect x="511" y="206" width="1" height="12" fill="#ff0000"/><rect x="510" y="210" width="3" height="5" fill="#ff0000"/><rect x="511" y="211" width="1" height="3" fill="#ff5010"/><rect x="515" y="202" width="1" height="36" fill="#32cd32"/><rect x="514" y="210" width="3" height="18" fill="#32cd32"/><rect x="519" y="213" width="1" height="25" fill="#32cd32"/><rect x="518" y="227" width="3" height="4" fill="#32cd32"/><rect x="523" y="219" width="1" height="19" fill="#32cd32"/><rect x="522" y="229" width="3" height="5" fill="#32cd32"/><rect x="527" y="222" width="1" height="47" fill="#32cd32"/><rect x="526" y="233" width="3" height="17" fill="#32cd32"/><rect x="531" y="225" width="1" height="25" fill="#ff0000"/><rect x="530" y="233" width="3" height="17" fill="#ff0000"/><rect x="531" y="234" width="1" height="15" fill="#ff5010"/><rect x="535" y="212" width="1" height="25" fill="#ff0000"/><rect x="534" y="216" width="3" height="18" fill="#ff0000"/><rect x="535" y="217" width="1" height="16" fill="#ff5010"/><rect x="539" y="214" width="1" height="16" fill="#32cd32"/><rect x="538" y="216" width="3" height="5" fill="#32cd32"/><rect x="543" y="215" width="1" height="23" fill="#32cd32"/><rect x="542" y="220" width="3" height="12" fill="#32cd32"/><rect x="547" y="225" width="1" height="41" fill="#32cd32"/><rect x="546" y="230" width="3" height="15" fill="#32cd32"/><rect x="551" y="226" width="1" height="20" fill="#ff0000"/><rect x="550" y="242" width="3" height="4" fill="#ff0000"/><rect x="551" y="243" width="1" height="2" fill="#ff5010"/><rect x="555" y="237" width="1" height="24" fill="#32cd32"/><rect x="554" y="241" width="3" height="9" fill="#32cd32"/><rect x="559" y="241" width="1" height="28" fill="#32cd32"/><rect x="558" y="249" width="3" height="14" fill="#32cd32"/><rect x="563" y="225" width="1" height="39" fill="#ff0000"/><rect x="562" y="228" width="3" height="35" fill="#ff0000"/><rect x="563" y="229" width="1" height="33" fill="#ff5010"/><rect x="567" y="201" width="1" height="41" fill="#ff0000"/><rect x="566" y="203" width="3" height="25" fill="#ff0000"/><rect x="567" y="204" width="1" height="23" fill="#ff5010"/><rect x="571" y="180" width="1" height="26" fill="#ff0000"/><rect x="570" y="189" width="3" height="13" fill="#ff0000"/><rect x="571" y="190" width="1" height="11" fill="#ff5010"/><rect x="575" y="180" width="1" height="24" fill="#ff0000"/><rect x="574" y="185" width="3" height="6" fill="#ff0000"/><rect x="575" y="186" width="1" height="4" fill="#ff5010"/><rect x="579" y="181" width="1" height="47" fill="#32cd32"/><rect x="578" y="185" width="3" height="19" fill="#32cd32"/><rect x="583" y="198" width="1" height="32" fill="#32cd32"/><rect x="582" y="203" width="3" height="13" fill="#32cd32"/><rect x="587" y="200" width="1" height="23" fill="#ff0000"/><rect x="586" y="212" width="3" height="4" fill="#ff0000"/><rect x="587" y="213" width="1" height="2" fill="#ff5010"/><rect x="591" y="206" width="1" height="23" fill="#32cd32"/><rect x="590" y="216" width="3" height="3" fill="#32cd32"/><rect x="595" y="202" width="1" height="26" fill="#ff0000"/><rect x="594" y="203" width="3" height="16" fill="#ff0000"/><rect x="595" y="204" width="1" height="14" fill="#ff5010"/><rect x="599" y="191" width="1" height="21" fill="#ff0000"/><rect x="598" y="193" width="3" height="11" fill="#ff0000"/><rect x="599" y="194" width="1" height="9" fill="#ff5010"/><rect x="603" y="191" width="1" height="49" fill="#32cd32"/><rect x="602" y="192" width="3" height="42" fill="#32cd32"/><rect x="607" y="215" width="1" height="48" fill="#32cd32"/><rect x="606" y="233" width="3" height="26" fill="#32cd32"/><rect x="611" y="220" width="1" height="26" fill="#ff0000"/><rect x="610" y="232" width="3" height="12" fill="#ff0000"/><rect x="611" y="233" width="1" height="10" fill="#ff5010"/><rect x="615" y="218" width="1" height="26" fill="#32cd32"/><rect x="614" y="233" width="3" height="3" fill="#32cd32"/><rect x="619" y="203" width="1" height="35" fill="#ff0000"/><rect x="618" y="224" width="3" height="12" fill="#ff0000"/><rect x="619" y="225" width="1" height="10" fill="#ff5010"/><rect x="623" y="222" width="1" height="15" fill="#32cd32"/><rect x="622" y="224" width="3" height="8" fill="#32cd32"/><rect x="627" y="224" width="1" height="20" fill="#32cd32"/><rect x="626" y="231" width="3" height="11" fill="#32cd32"/><rect x="631" y="218" width="1" height="34" fill="#ff0000"/><rect x="630" y="220" width="3" height="20" fill="#ff0000"/><rect x="631" y="221" width="1" height="18" fill="#ff5010"/><rect x="635" y="212" width="1" height="22" fill="#32cd32"/><rect x="634" y="220" width="3" height="6" fill="#32cd32"/><rect x="639" y="224" width="1" height="43" fill="#32cd32"/><rect x="638" y="224" width="3" height="39" fill="#32cd32"/><rect x="643" y="246" width="1" height="21" fill="#ff0000"/><rect x="642" y="252" width="3" height="10" fill="#ff0000"/><rect x="643" y="253" width="1" height="8" fill="#ff5010"/><rect x="647" y="248" width="1" height="24" fill="#32cd32"/><rect x="646" y="251" width="3" height="4" fill="#32cd32"/><rect x="651" y="247" width="1" height="20" fill="#32cd32"/><rect x="650" y="256" width="3" height="7" fill="#32cd32"/><rect x="655" y="260" width="1" height="85" fill="#32cd32"/><rect x="654" y="261" width="3" height="75" fill="#32cd32"/><rect x="659" y="307" width="1" height="32" fill="#ff0000"/><rect x="658" y="310" width="3" height="25" fill="#ff0000"/><rect x="659" y="311" width="1" height="23" fill="#ff5010"/><rect x="663" y="300" width="1" height="25" fill="#ff0000"/><rect x="662" y="309" width="3" height="3" fill="#ff0000"/><rect x="663" y="310" width="1" height="1" fill="#ff5010"/><rect x="667" y="303" width="1" height="30" fill="#32cd32"/><rect x="666" y="308" width="3" height="15" fill="#32cd32"/><rect x="671" y="316" width="1" height="21" fill="#32cd32"/><rect x="670" y="323" width="3" height="6" fill="#32cd32"/><rect x="675" y="320" width="1" height="15" fill="#32cd32"/><rect x="674" y="327" width="3" height="4" fill="#32cd32"/><rect x="679" y="305" width="1" height="28" fill="#ff0000"/><rect x="678" y="308" width="3" height="22" fill="#ff0000"/><rect x="679" y="309" width="1" height="20" fill="#ff5010"/><rect x="683" y="294" width="1" height="27" fill="#32cd32"/><rect x="682" y="308" width="3" height="9" fill="#32cd32"/><rect x="687" y="286" width="1" height="40" fill="#ff0000"/><rect x="686" y="289" width="3" height="28" fill="#ff0000"/><rect x="687" y="290" width="1" height="26" fill="#ff5010"/><rect x="691" y="288" width="1" height="24" fill="#32cd32"/><rect x="690" y="290" width="3" height="18" fill="#32cd32"/><rect x="695" y="294" width="1" height="18" fill="#ff0000"/><rect x="694" y="298" width="3" height="10" fill="#ff0000"/><rect x="695" y="299" width="1" height="8" fill="#ff5010"/><rect x="699" y="291" width="1" height="23" fill="#32cd32"/><rect x="698" y="297" width="3" height="16" fill="#32cd32"/><rect x="703" y="297" width="1" height="16" fill="#ff0000"/><rect x="702" y="306" width="3" height="6" fill="#ff0000"/><rect x="703" y="307" width="1" height="4" fill="#ff5010"/><rect x="707" y="290" width="1" height="19" fill="#ff0000"/><rect x="706" y="303" width="3" height="5" fill="#ff0000"/><rect x="707" y="304" width="1" height="3" fill="#ff5010"/><rect x="711" y="301" width="1" height="22" fill="#32cd32"/><rect x="710" y="305" width="3" height="13" fill="#32cd32"/><rect x="715" y="303" width="1" height="19" fill="#32cd32"/><rect x="714" y="316" width="3" height="4" fill="#32cd32"/><rect x="719" y="300" width="1" height="22" fill="#ff0000"/><rect x="718" y="301" width="3" height="17" fill="#ff0000"/><rect x="719" y="302" width="1" height="15" fill="#ff5010"/><rect x="723" y="290" width="1" height="33" fill="#32cd32"/><rect x="722" y="300" width="3" height="12" fill="#32cd32"/><rect x="727" y="306" width="1" height="35" fill="#32cd32"/><rect x="726" y="309" width="3" height="17" fill="#32cd32"/><rect x="731" y="321" width="1" height="17" fill="#ff0000"/><rect x="730" y="325" width="3" height="7" fill="#ff0000"/><rect x="731" y="326" width="1" height="5" fill="#ff5010"/><rect x="735" y="303" width="1" height="50" fill="#ff0000"/><rect x="734" y="312" width="3" height="14" fill="#ff0000"/><rect x="735" y="313" width="1" height="12" fill="#ff5010"/><rect x="739" y="309" width="1" height="31" fill="#32cd32"/><rect x="738" y="312" width="3" height="23" fill="#32cd32"/><rect x="743" y="314" width="1" height="24" fill="#ff0000"/><rect x="742" y="328" width="3" height="6" fill="#ff0000"/><rect x="743" y="329" width="1" height="4" fill="#ff5010"/><rect x="747" y="307" width="1" height="23" fill="#ff0000"/><rect x="746" y="314" width="3" height="15" fill="#ff0000"/><rect x="747" y="315" width="1" height="13" fill="#ff5010"/><rect x="751" y="307" width="1" height="26" fill="#32cd32"/><rect x="750" y="310" width="3" height="8" fill="#32cd32"/><rect x="755" y="307" width="1" height="18" fill="#ff0000"/><rect x="754" y="313" width="3" height="4" fill="#ff0000"/><rect x="755" y="314" width="1" height="2" fill="#ff5010"/><rect x="759" y="302" width="1" height="18" fill="#ff0000"/><rect x="758" y="307" width="3" height="8" fill="#ff0000"/><rect x="759" y="308" width="1" height="6" fill="#ff5010"/><rect x="763" y="306" width="1" height="16" fill="#32cd32"/><rect x="762" y="307" width="3" height="9" fill="#32cd32"/><rect x="767" y="300" width="1" height="17" fill="#ff0000"/><rect x="766" y="303" width="3" height="13" fill="#ff0000"/><rect x="767" y="304" width="1" height="11" fill="#ff5010"/><rect x="771" y="303" width="1" height="24" fill="#32cd32"/><rect x="770" y="307" width="3" height="16" fill="#32cd32"/><rect x="775" y="320" width="1" height="32" fill="#32cd32"/><rect x="774" y="321" width="3" height="24" fill="#32cd32"/><rect x="779" y="334" width="1" height="18" fill="#ff0000"/><rect x="778" y="338" width="3" height="7" fill="#ff0000"/><rect x="779" y="339" width="1" height="5" fill="#ff5010"/><rect x="783" y="331" width="1" height="14" fill="#ff0000"/><rect x="782" y="338" width="3" height="2" fill="#ff0000"/><rect x="787" y="327" width="1" height="20" fill="#ff0000"/><rect x="786" y="336" width="3" height="3" fill="#ff0000"/><rect x="787" y="337" width="1" height="1" fill="#ff5010"/><rect x="791" y="328" width="1" height="16" fill="#ff0000"/><rect x="790" y="334" width="3" height="3" fill="#ff0000"/><rect x="791" y="335" width="1" height="1" fill="#ff5010"/><rect x="795" y="332" width="1" height="23" fill="#32cd32"/><rect x="794" y="335" width="3" height="16" fill="#32cd32"/><rect x="799" y="346" width="1" height="50" fill="#32cd32"/><rect x="798" y="349" width="3" height="28" fill="#32cd32"/><rect x="803" y="322" width="1" height="63" fill="#ff0000"/><rect x="802" y="332" width="3" height="43" fill="#ff0000"/><rect x="803" y="333" width="1" height="41" fill="#ff5010"/><rect x="807" y="315" width="1" height="35" fill="#32cd32"/><rect x="806" y="331" width="3" height="3" fill="#32cd32"/><rect x="811" y="332" width="1" height="18" fill="#32cd32"/><rect x="810" y="334" width="3" height="5" fill="#32cd32"/><rect x="815" y="335" width="1" height="11" fill="#32cd32"/><rect x="814" y="335" width="3" height="4" fill="#32cd32"/><rect x="819" y="326" width="1" height="17" fill="#ff0000"/><rect x="818" y="333" width="3" height="6" fill="#ff0000"/><rect x="819" y="334" width="1" height="4" fill="#ff5010"/><rect x="823" y="326" width="1" height="15" fill="#ff0000"/><rect x="822" y="330" width="3" height="5" fill="#ff0000"/><rect x="823" y="331" width="1" height="3" fill="#ff5010"/><rect x="827" y="308" width="1" height="29" fill="#ff0000"/><rect x="826" y="320" width="3" height="10" fill="#ff0000"/><rect x="827" y="321" width="1" height="8" fill="#ff5010"/><rect x="831" y="314" width="1" height="15" fill="#32cd32"/><rect x="830" y="317" width="3" height="8" fill="#32cd32"/><rect x="835" y="322" width="1" height="13" fill="#32cd32"/><rect x="834" y="323" width="3" height="9" fill="#32cd32"/><rect x="839" y="326" width="1" height="11" fill="#32cd32"/><rect x="838" y="330" width="3" height="3" fill="#32cd32"/><rect x="843" y="328" width="1" height="11" fill="#32cd32"/><rect x="842" y="332" width="3" height="3" fill="#32cd32"/><rect x="847" y="328" width="1" height="18" fill="#32cd32"/><rect x="846" y="334" width="3" height="3" fill="#32cd32"/><rect x="851" y="332" width="1" height="11" fill="#ff0000"/><rect x="850" y="336" width="3" height="4" fill="#ff0000"/><rect x="851" y="337" width="1" height="2" fill="#ff5010"/><rect x="855" y="330" width="1" height="12" fill="#32cd32"/><rect x="854" y="336" width="3" height="4" fill="#32cd32"/><rect x="859" y="335" width="1" height="13" fill="#32cd32"/><rect x="858" y="336" width="3" height="7" fill="#32cd32"/><rect x="863" y="328" width="1" height="18" fill="#ff0000"/><rect x="862" y="333" width="3" height="10" fill="#ff0000"/><rect x="863" y="334" width="1" height="8" fill="#ff5010"/><rect x="867" y="329" width="1" height="57" fill="#32cd32"/><rect x="866" y="333" width="3" height="18" fill="#32cd32"/><rect x="871" y="336" width="1" height="32" fill="#ff0000"/><rect x="870" y="339" width="3" height="18" fill="#ff0000"/><rect x="871" y="340" width="1" height="16" fill="#ff5010"/><rect x="875" y="323" width="1" height="20" fill="#ff0000"/><rect x="874" y="334" width="3" height="8" fill="#ff0000"/><rect x="875" y="335" width="1" height="6" fill="#ff5010"/><rect x="879" y="331" width="1" height="17" fill="#32cd32"/><rect x="878" y="334" width="3" height="3" fill="#32cd32"/><rect x="883" y="303" width="1" height="38" fill="#ff0000"/><rect x="882" y="312" width="3" height="27" fill="#ff0000"/><rect x="883" y="313" width="1" height="25" fill="#ff5010"/><rect x="887" y="309" width="1" height="22" fill="#32cd32"/><rect x="886" y="310" width="3" height="15" fill="#32cd32"/><rect x="891" y="319" width="1" height="14" fill="#32cd32"/><rect x="890" y="325" width="3" height="4" fill="#32cd32"/><rect x="895" y="322" width="1" height="12" fill="#32cd32"/><rect x="894" y="326" width="3" height="7" fill="#32cd32"/><rect x="899" y="330" width="1" height="27" fill="#32cd32"/><rect x="898" y="331" width="3" height="22" fill="#32cd32"/><rect x="903" y="343" width="1" height="17" fill="#32cd32"/><rect x="902" y="350" width="3" height="3" fill="#32cd32"/><rect x="907" y="346" width="1" height="33" fill="#32cd32"/><rect x="906" y="351" width="3" height="10" fill="#32cd32"/><rect x="911" y="348" width="1" height="23" fill="#32cd32"/><rect x="910" y="361" width="3" height="8" fill="#32cd32"/><rect x="915" y="351" width="1" height="32" fill="#ff0000"/><rect x="914" y="356" width="3" height="11" fill="#ff0000"/><rect x="915" y="357" width="1" height="9" fill="#ff5010"/><rect x="919" y="351" width="1" height="22" fill="#32cd32"/><rect x="918" y="355" width="3" height="12" fill="#32cd32"/><rect x="923" y="364" width="1" height="3" fill="#32cd32"/><rect x="922" y="365" width="3" height="2" fill="#32cd32"/></g><polyline points="3.5,223.5 8.5,211.5 14.5,198.5 19.5,186.5 25.5,181.5 31.5,176.5 38.5,169.5 47.5,165.5 54.5,161.5 57.5,157.5 66.5,148.5 71.5,149.5 75.5,143.5 81.5,132.5 86.5,122.5 94.5,114.5 100.5,108.5 105.5,100.5 115.5,92.5 125.5,96.5 133.5,104.5 143.5,119.5 151.5,133.5 160.5,150.5 167.5,168.5 175.5,176.5 186.5,192.5 191.5,201.5 198.5,213.5 207.5,222.5 217.5,230.5 226.5,238.5 239.5,260.5 244.5,267.5 252.5,278.5 258.5,290.5 267.5,298.5 275.5,306.5 282.5,314.5 289.5,318.5 296.5,316.5 300.5,313.5 304.5,300.5 310.5,288.5 319.5,270.5 327.5,255.5 335.5,241.5 343.5,226.5 351.5,214.5 361.5,205.5 366.5,201.5 380.5,199.5 393.5,197.5 408.5,195.5 416.5,190.5 421.5,190.5 425.5,193.5 439.5,195.5 447.5,197.5 455.5,197.5 461.5,197.5 468.5,199.5 476.5,201.5 481.5,197.5 489.5,191.5 501.5,188.5 507.5,188.5 513.5,192.5 523.5,199.5 530.5,206.5 536.5,210.5 544.5,220.5 552.5,225.5 559.5,233.5 564.5,233.5 574.5,228.5 585.5,222.5 593.5,220.5 600.5,217.5 608.5,218.5 619.5,214.5 622.5,214.5 628.5,220.5 635.5,223.5 640.5,228.5 646.5,232.5 651.5,238.5 657.5,248.5 663.5,257.5 669.5,264.5 673.5,272.5 680.5,280.5 686.5,290.5 694.5,300.5 702.5,308.5 708.5,312.5 718.5,311.5 729.5,309.5 735.5,309.5 740.5,310.5 748.5,316.5 760.5,316.5 770.5,316.5 774.5,318.5 781.5,322.5 790.5,324.5 794.5,325.5 800.5,329.5 808.5,331.5 815.5,334.5 820.5,337.5 830.5,337.5 834.5,336.5 850.5,336.5 855.5,333.5 862.5,333.5 883.5,334.5 898.5,334.5 902.5,336.5 907.5,338.5 915.5,341.5 923.5,344.5" fill="none" stroke="#ff0000" stroke-width="1" stroke-linejoin="round" shape-rendering="crispEdges"/><polyline points="3.5,229.5 11.5,225.5 16.5,219.5 24.5,207.5 31.5,201.5 39.5,190.5 46.5,182.5 49.5,179.5 57.5,169.5 66.5,159.5 73.5,157.5 78.5,148.5 86.5,134.5 93.5,127.5 100.5,126.5 104.5,124.5 110.5,118.5 113.5,114.5 118.5,111.5 123.5,109.5 128.5,106.5 137.5,106.5 141.5,108.5 146.5,110.5 150.5,116.5 154.5,118.5 157.5,122.5 160.5,127.5 162.5,131.5 170.5,145.5 181.5,158.5 191.5,180.5 200.5,193.5 207.5,201.5 219.5,220.5 231.5,228.5 238.5,239.5 244.5,248.5 255.5,266.5 258.5,271.5 267.5,283.5 278.5,288.5 290.5,299.5 296.5,302.5 302.5,301.5 310.5,297.5 320.5,285.5 332.5,270.5 343.5,253.5 354.5,240.5 366.5,222.5 375.5,209.5 384.5,202.5 393.5,199.5 410.5,199.5 416.5,194.5 418.5,193.5 424.5,193.5 429.5,195.5 441.5,197.5 447.5,197.5 455.5,196.5 460.5,197.5 477.5,195.5 489.5,190.5 494.5,192.5 501.5,195.5 513.5,195.5 524.5,199.5 534.5,202.5 544.5,207.5 554.5,211.5 562.5,217.5 570.5,222.5 585.5,222.5 591.5,224.5 598.5,222.5 610.5,222.5 618.5,222.5 627.5,223.5 646.5,222.5 650.5,224.5 654.5,231.5 659.5,239.5 667.5,250.5 681.5,266.5 684.5,270.5 692.5,275.5 697.5,280.5 705.5,287.5 714.5,297.5 721.5,302.5 729.5,309.5 735.5,313.5 743.5,314.5 754.5,314.5 760.5,312.5 768.5,312.5 774.5,314.5 784.5,318.5 793.5,322.5 800.5,326.5 809.5,329.5 820.5,330.5 834.5,330.5 844.5,333.5 852.5,335.5 866.5,334.5 885.5,334.5 890.5,332.5 898.5,332.5 902.5,334.5 910.5,336.5 922.5,341.5" fill="none" stroke="#0000ff" stroke-width="1" stroke-linejoin="round" shape-rendering="crispEdges"/><rect x="3" y="132" width="1163" height="2" fill="#ff0000"/><rect x="3" y="202" width="1163" height="2" fill="#ff0000"/><rect x="3" y="265" width="1163" height="2" fill="#00ff00"/><rect x="3" y="338" width="1163" height="2" fill="#0000ff"/><rect x="3" y="393" width="1163" height="2" fill="#0000ff"/><rect x="2" y="25" width="1164" height="1" fill="#000"/><rect x="2" y="404" width="1164" height="1" fill="#000"/><rect x="2" y="25" width="1" height="380" fill="#000"/><rect x="1165" y="25" width="1" height="380" fill="#000"/><rect x="2" y="406" width="1164" height="1" fill="#000"/><rect x="2" y="474" width="1164" height="1" fill="#000"/><rect x="2" y="406" width="1" height="69" fill="#000"/><rect x="1165" y="406" width="1" height="69" fill="#000"/><rect x="2" y="477" width="1164" height="1" fill="#000"/><rect x="2" y="549" width="1164" height="1" fill="#000"/><rect x="2" y="477" width="1" height="73" fill="#000"/><rect x="1165" y="477" width="1" height="73" fill="#000"/><rect x="1166" y="38" width="2" height="1" fill="#000"/><rect x="1166" y="71" width="2" height="1" fill="#000"/><rect x="1166" y="104" width="2" height="1" fill="#000"/><rect x="1166" y="137" width="2" height="1" fill="#000"/><rect x="1166" y="170" width="2" height="1" fill="#000"/><rect x="1166" y="203" width="2" height="1" fill="#000"/><rect x="1166" y="236" width="2" height="1" fill="#000"/><rect x="1166" y="269" width="2" height="1" fill="#000"/><rect x="1166" y="302" width="2" height="1" fill="#000"/><rect x="1166" y="335" width="2" height="1" fill="#000"/><rect x="1166" y="368" width="2" height="1" fill="#000"/><rect x="1166" y="401" width="2" height="1" fill="#000"/><rect x="1166" y="407" width="2" height="1" fill="#000"/><rect x="1166" y="438" width="2" height="1" fill="#000"/><rect x="1166" y="474" width="2" height="1" fill="#000"/><rect x="1166" y="477" width="2" height="1" fill="#000"/><rect x="1166" y="499" width="2" height="1" fill="#000"/><rect x="1166" y="527" width="2" height="1" fill="#000"/><rect x="1166" y="549" width="2" height="1" fill="#000"/><rect x="3" y="550" width="1" height="3" fill="#000"/><rect x="67" y="550" width="1" height="3" fill="#000"/><rect x="131" y="550" width="1" height="3" fill="#000"/><rect x="195" y="550" width="1" height="3" fill="#000"/><rect x="259" y="550" width="1" height="3" fill="#000"/><rect x="323" y="550" width="1" height="3" fill="#000"/><rect x="387" y="550" width="1" height="3" fill="#000"/><rect x="451" y="550" width="1" height="3" fill="#000"/><rect x="515" y="550" width="1" height="3" fill="#000"/><rect x="579" y="550" width="1" height="3" fill="#000"/><rect x="643" y="550" width="1" height="3" fill="#000"/><rect x="707" y="550" width="1" height="3" fill="#000"/><rect x="771" y="550" width="1" height="3" fill="#000"/><rect x="835" y="550" width="1" height="3" fill="#000"/><rect x="899" y="550" width="1" height="3" fill="#000"/></svg>
<div class="t" style="left:1171px;top:34.25px;font-size:9.8px;color:#000;letter-spacing:-0.35px;">6.59120</div><div class="t" style="left:1171px;top:67.25px;font-size:9.8px;color:#000;letter-spacing:-0.35px;">6.56670</div><div class="t" style="left:1171px;top:100.25px;font-size:9.8px;color:#000;letter-spacing:-0.35px;">6.54290</div><div class="t" style="left:1171px;top:133.25px;font-size:9.8px;color:#000;letter-spacing:-0.35px;">6.51840</div><div class="t" style="left:1171px;top:166.25px;font-size:9.8px;color:#000;letter-spacing:-0.35px;">6.49460</div><div class="t" style="left:1171px;top:232.25px;font-size:9.8px;color:#000;letter-spacing:-0.35px;">6.44560</div><div class="t" style="left:1171px;top:265.25px;font-size:9.8px;color:#000;letter-spacing:-0.35px;">6.42180</div><div class="t" style="left:1171px;top:298.25px;font-size:9.8px;color:#000;letter-spacing:-0.35px;">6.39730</div><div class="t" style="left:1171px;top:331.25px;font-size:9.8px;color:#000;letter-spacing:-0.35px;">6.37350</div><div class="t" style="left:1171px;top:397.25px;font-size:9.8px;color:#000;letter-spacing:-0.35px;">6.32520</div>
<div style="position:absolute;left:1167px;top:127px;width:38px;height:11px;background:#ff0000"></div><div style="position:absolute;left:1167px;top:197px;width:38px;height:11px;background:#ff0000"></div><div style="position:absolute;left:1167px;top:260px;width:38px;height:11px;background:#00ff00"></div><div style="position:absolute;left:1167px;top:333px;width:38px;height:11px;background:#0000ff"></div><div style="position:absolute;left:1167px;top:361px;width:38px;height:11px;background:#000000"></div><div style="position:absolute;left:1167px;top:388px;width:38px;height:11px;background:#0000ff"></div>
<div style="position:absolute;left:4px;top:43px;width:224px;height:61px;background:#fff"></div><div style="position:absolute;left:6px;top:45px;width:52px;height:25px;background:#b40000"></div><div style="position:absolute;left:7px;top:46px;width:50px;height:24px;background:linear-gradient(#fb5252,#e03030)"></div><div style="position:absolute;left:6px;top:69px;width:109px;height:33px;background:#b40000"></div><div style="position:absolute;left:7px;top:70px;width:107px;height:31px;background:linear-gradient(#da2c2c,#ad0202)"></div><div style="position:absolute;left:7px;top:68px;width:50px;height:2px;background:#e23434"></div><div style="position:absolute;left:10px;top:68px;width:44px;height:1px;background:#8a0000"></div><div style="position:absolute;left:10px;top:69px;width:44px;height:1px;background:#f06262"></div><div style="position:absolute;left:173px;top:45px;width:52px;height:25px;background:#b40000"></div><div style="position:absolute;left:174px;top:46px;width:50px;height:24px;background:linear-gradient(#fb5252,#e03030)"></div><div style="position:absolute;left:117px;top:69px;width:108px;height:33px;background:#b40000"></div><div style="position:absolute;left:118px;top:70px;width:106px;height:31px;background:linear-gradient(#da2c2c,#ad0202)"></div><div style="position:absolute;left:174px;top:68px;width:50px;height:2px;background:#e23434"></div><div style="position:absolute;left:177px;top:68px;width:44px;height:1px;background:#8a0000"></div><div style="position:absolute;left:177px;top:69px;width:44px;height:1px;background:#f06262"></div><div style="position:absolute;left:60px;top:45px;width:111px;height:22px;background:#a8acb4"></div><div style="position:absolute;left:61px;top:46px;width:109px;height:20px;background:#fff"></div><div style="position:absolute;left:81px;top:46px;width:1px;height:20px;background:#a8acb4"></div><div style="position:absolute;left:149px;top:46px;width:1px;height:20px;background:#a8acb4"></div><div style="position:absolute;left:62px;top:47px;width:18px;height:18px;background:linear-gradient(#f0f0f0 0%,#e8e8e8 33%,#d8d8d8 34%,#d0d0d0 100%)"></div><div style="position:absolute;left:151px;top:47px;width:18px;height:18px;background:linear-gradient(#f0f0f0 0%,#e8e8e8 33%,#d8d8d8 34%,#d0d0d0 100%)"></div><svg style="position:absolute;left:0;top:0" width="240" height="110"><path d="M67.6,54 L73.4,54 L70.5,57.4 Z" fill="#5064c8"/><path d="M156.6,57.4 L162.4,57.4 L159.5,54 Z" fill="#5064c8"/></svg><svg style="position:absolute;left:0;top:0" width="20" height="40"><path d="M6,36.5 L13,36.5 L9.5,32 Z" fill="#000"/></svg>
<div style="position:absolute;left:0;top:570px;width:1205px;height:1px;background:#ebebeb"></div><div style="position:absolute;left:0;top:572px;width:1205px;height:1px;background:#000"></div><div style="position:absolute;left:0;top:573px;width:1205px;height:1px;background:#fff"></div><div style="position:absolute;left:0;top:574px;width:1205px;height:17px;background:#f0f0f0"></div><div style="position:absolute;left:0;top:591px;width:1205px;height:1px;background:#f4f4f4"></div><div style="position:absolute;left:0;top:592px;width:1205px;height:2px;background:#fafafa"></div><div style="position:absolute;left:524px;top:572px;width:110px;height:18px;border:1px solid #000;border-top:none;background:#fff"></div><div style="position:absolute;left:104px;top:575px;width:1px;height:14px;background:#555"></div><div style="position:absolute;left:212px;top:575px;width:1px;height:14px;background:#555"></div><div style="position:absolute;left:320px;top:575px;width:1px;height:14px;background:#555"></div><div style="position:absolute;left:416px;top:575px;width:1px;height:14px;background:#555"></div><div style="position:absolute;left:732px;top:575px;width:1px;height:14px;background:#555"></div><div style="position:absolute;left:825px;top:575px;width:1px;height:14px;background:#555"></div><div style="position:absolute;left:913px;top:575px;width:1px;height:14px;background:#555"></div><div style="position:absolute;left:997px;top:575px;width:1px;height:14px;background:#555"></div><svg style="position:absolute;left:1170px;top:574px" width="35" height="18"><path d="M14.5,4 L14.5,11 L11,7.5 Z" fill="#a0a0a0"/><path d="M30,4 L30,11 L33.5,7.5 Z" fill="#a0a0a0"/></svg>
<div class="t" style="left:1171px;top:127.85px;font-size:9.8px;color:#fff;letter-spacing:-0.35px;">6.52126</div><div class="t" style="left:1171px;top:197.85px;font-size:9.8px;color:#fff;letter-spacing:-0.35px;">6.47044</div><div class="t" style="left:1171px;top:260.85px;font-size:9.8px;color:#fff;letter-spacing:-0.35px;">6.42424</div><div class="t" style="left:1171px;top:333.85px;font-size:9.8px;color:#fff;letter-spacing:-0.35px;">6.37063</div><div class="t" style="left:1171px;top:361.85px;font-size:9.8px;color:#fff;letter-spacing:-0.35px;">6.35077</div><div class="t" style="left:1171px;top:388.85px;font-size:9.8px;color:#fff;letter-spacing:-0.35px;">6.33041</div><div class="t" style="left:1169px;top:408.85px;font-size:9.8px;color:#000;letter-spacing:-0.35px;">0.02607</div><div class="t" style="left:1169px;top:433.85px;font-size:9.8px;color:#000;letter-spacing:-0.35px;">0.00</div><div class="t" style="left:1169px;top:463.85px;font-size:9.8px;color:#000;letter-spacing:-0.35px;">-0.03187</div><div class="t" style="left:1170px;top:480.85px;font-size:9.8px;color:#000;letter-spacing:-0.35px;">100</div><div class="t" style="left:1170px;top:494.85px;font-size:9.8px;color:#000;letter-spacing:-0.35px;">70</div><div class="t" style="left:1170px;top:523.85px;font-size:9.8px;color:#000;letter-spacing:-0.35px;">30</div><div class="t" style="left:1170px;top:537.85px;font-size:9.8px;color:#000;letter-spacing:-0.35px;">0</div><div class="t" style="left:3px;top:553.85px;font-size:9.8px;color:#000;letter-spacing:-0.35px;">3 Mar 2021</div><div class="t" style="left:67px;top:553.85px;font-size:9.8px;color:#000;letter-spacing:-0.35px;">25 Mar 2021</div><div class="t" style="left:131px;top:553.85px;font-size:9.8px;color:#000;letter-spacing:-0.35px;">19 Apr 2021</div><div class="t" style="left:195px;top:553.85px;font-size:9.8px;color:#000;letter-spacing:-0.35px;">11 May 2021</div><div class="t" style="left:259px;top:553.85px;font-size:9.8px;color:#000;letter-spacing:-0.35px;">2 Jun 2021</div><div class="t" style="left:323px;top:553.85px;font-size:9.8px;color:#000;letter-spacing:-0.35px;">24 Jun 2021</div><div class="t" style="left:387px;top:553.85px;font-size:9.8px;color:#000;letter-spacing:-0.35px;">16 Jul 2021</div><div class="t" style="left:451px;top:553.85px;font-size:9.8px;color:#000;letter-spacing:-0.35px;">9 Aug 2021</div><div class="t" style="left:515px;top:553.85px;font-size:9.8px;color:#000;letter-spacing:-0.35px;">31 Aug 2021</div><div class="t" style="left:579px;top:553.85px;font-size:9.8px;color:#000;letter-spacing:-0.35px;">22 Sep 2021</div><div class="t" style="left:643px;top:553.85px;font-size:9.8px;color:#000;letter-spacing:-0.35px;">14 Oct 2021</div><div class="t" style="left:707px;top:553.85px;font-size:9.8px;color:#000;letter-spacing:-0.35px;">5 Nov 2021</div><div class="t" style="left:771px;top:553.85px;font-size:9.8px;color:#000;letter-spacing:-0.35px;">29 Nov 2021</div><div class="t" style="left:835px;top:553.85px;font-size:9.8px;color:#000;letter-spacing:-0.35px;">21 Dec 2021</div><div class="t" style="left:899px;top:553.85px;font-size:9.8px;color:#000;letter-spacing:-0.35px;">12 Jan 2022</div><div class="t" style="left:17.8px;top:28.85px;font-size:9.8px;color:#000;letter-spacing:0.05px;">USDCNH-,Daily</div><div class="t" style="left:93px;top:28.85px;font-size:9.8px;color:#000;letter-spacing:-0.22px;">6.35164 6.35187 6.35054 6.35077</div><div class="t" style="left:7px;top:410.87px;font-size:9.6px;color:#000;letter-spacing:-0.2px;">MACD(12,26,9) -0.006411 -0.003337</div><div class="t" style="left:7px;top:481.87px;font-size:9.6px;color:#000;letter-spacing:-0.2px;">RSI(14) 38.2860</div><div class="t" style="left:-1px;top:5.42px;font-size:10px;color:#404040;letter-spacing:-0.1px;">5</div><div class="t" style="left:14px;top:5.42px;font-size:10px;color:#404040;letter-spacing:-0.1px;">M30</div><div class="t" style="left:45px;top:5.42px;font-size:10px;color:#404040;letter-spacing:-0.1px;">H1</div><div class="t" style="left:72px;top:5.42px;font-size:10px;color:#404040;letter-spacing:-0.1px;">H4</div><div class="t" style="left:101.5px;top:5.42px;font-size:10px;color:#404040;letter-spacing:-0.1px;">D1</div><div class="t" style="left:128.5px;top:5.42px;font-size:10px;color:#404040;letter-spacing:-0.1px;">W1</div><div class="t" style="left:155.5px;top:5.42px;font-size:10px;color:#404040;letter-spacing:-0.1px;">MN</div><div class="t" style="left:16.5px;top:49.95px;font-size:13.2px;color:#fff;letter-spacing:-0.5px;">SELL</div><div class="t" style="left:186px;top:49.95px;font-size:13.2px;color:#fff;letter-spacing:-0.3px;">BUY</div><div class="t" style="left:121.5px;top:48.31px;font-size:14.4px;color:#000;letter-spacing:-0.4px;">3.00</div><div class="t" style="left:25.5px;top:87.04px;font-size:12.4px;color:#fff;letter-spacing:-0.2px;font-weight:bold;">6.35</div><div class="t" style="left:135.5px;top:87.04px;font-size:12.4px;color:#fff;letter-spacing:-0.2px;font-weight:bold;">6.35</div><div class="t" style="left:53px;top:68.33px;font-size:35.5px;color:#fff;transform:scaleX(0.87);transform-origin:0 0;">07</div><div class="t" style="left:163.5px;top:68.33px;font-size:35.5px;color:#fff;transform:scaleX(0.96);transform-origin:0 0;">29</div><div class="t" style="left:93.5px;top:69.80px;font-size:14.5px;color:#fff;font-weight:bold;">7</div><div class="t" style="left:204px;top:71.88px;font-size:13.8px;color:#fff;font-weight:bold;">7</div><div class="t" style="left:16px;top:576.54px;font-size:12.4px;color:#6a6a6a;">USDX,Weekly</div><div class="t" style="left:115px;top:576.54px;font-size:12.4px;color:#6a6a6a;">EURUSD-,Daily</div><div class="t" style="left:222px;top:576.54px;font-size:12.4px;color:#6a6a6a;">AUDUSD-,Daily</div><div class="t" style="left:332px;top:576.54px;font-size:12.4px;color:#6a6a6a;">USDCHF-,H4</div><div class="t" style="left:427px;top:576.54px;font-size:12.4px;color:#6a6a6a;">USDCAD-,Daily</div><div class="t" style="left:647px;top:576.54px;font-size:12.4px;color:#6a6a6a;">XAUUSD-,H1</div><div class="t" style="left:744px;top:576.54px;font-size:12.4px;color:#6a6a6a;">UKOil-,Daily</div><div class="t" style="left:836px;top:576.54px;font-size:12.4px;color:#6a6a6a;">DJ30-,Daily</div><div class="t" style="left:923px;top:576.54px;font-size:12.4px;color:#6a6a6a;">UK100-,H1</div><div class="t" style="left:536.5px;top:576.54px;font-size:12.4px;color:#000;">USDCNH-,Daily</div>
</body></html>
